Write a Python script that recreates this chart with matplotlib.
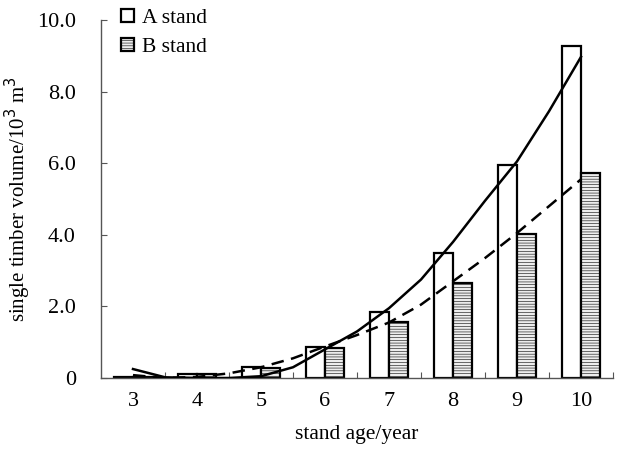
import numpy as np
import matplotlib
matplotlib.use("Agg")
import matplotlib.pyplot as plt

plt.rcParams['font.family'] = ['Liberation Serif', 'DejaVu Serif']
plt.rcParams['hatch.color'] = '#d2d2d2'
plt.rcParams['hatch.linewidth'] = 0.4

ages = [3, 4, 5, 6, 7, 8, 9, 10]
a_stand = [0.02, 0.11, 0.30, 0.87, 1.84, 3.49, 5.95, 9.27]
b_stand = [0.02, 0.10, 0.28, 0.84, 1.57, 2.65, 4.02, 5.73]

curve_x = [3, 3.5, 4, 4.5, 5, 5.5, 6, 6.5, 7, 7.5, 8, 8.5, 9, 9.5, 10]
curve_a = [0.25, 0.02, 0.0, 0.0, 0.05, 0.3, 0.8, 1.3, 1.95, 2.75, 3.8, 4.95, 6.05, 7.45, 8.97]
curve_b = [0.08, 0.0, 0.03, 0.13, 0.3, 0.55, 0.88, 1.2, 1.55, 2.05, 2.7, 3.35, 4.05, 4.8, 5.55]

yticks = [0, 2, 4, 6, 8, 10]
ytick_labels = ["0", "2.0", "4.0", "6.0", "8.0", "10.0"]

fig = plt.figure(figsize=(6.19, 4.49), dpi=100)
ax = fig.add_axes([101/619, 71/449, 512/619, 358/449])

x = np.array(ages, dtype=float)
w = 0.3
ax.bar(x - w/2, a_stand, width=w, facecolor='white', edgecolor='black', linewidth=1.6, label='A stand', zorder=2)
ax.bar(x + w/2, b_stand, width=w, facecolor='#ededed', edgecolor='black', linewidth=1.6, hatch='------', label='B stand', zorder=2)

ax.plot(curve_x, curve_a, color='black', lw=1.8, zorder=3)
ax.plot(curve_x, curve_b, color='black', lw=1.8, ls=(0, (5, 3)), zorder=3)

ax.set_xlim(2.5, 10.5)
ax.set_ylim(0, 10)
ax.set_yticks(yticks)
ax.set_yticklabels(ytick_labels)
ax.set_xticks(ages)
ax.set_xticks(np.arange(3.5, 10.6, 1.0), minor=True)
ax.tick_params(axis='x', which='major', length=0, labelsize=16, pad=10)
ax.tick_params(axis='x', which='minor', direction='in', length=4, width=0.8, color='#555555')
ax.tick_params(axis='y', direction='in', length=4, width=0.8, color='#555555', labelsize=16, pad=18)

for s in ['top', 'right']:
    ax.spines[s].set_visible(False)
for s in ['left', 'bottom']:
    ax.spines[s].set_color('#555555')
    ax.spines[s].set_linewidth(1.0)

ax.set_xlabel('stand age/year', fontsize=15.5, labelpad=10)
ax.set_ylabel('single timber volume/10$^3$ m$^3$', fontsize=15, labelpad=3)

leg = fig.legend(loc='upper left', bbox_to_anchor=(0.182, 1.0), frameon=False,
                 fontsize=15.5, handlelength=0.6, handleheight=0.6, handletextpad=0.35,
                 labelspacing=0.45, borderaxespad=0)

fig.savefig('out.png', dpi=100)
